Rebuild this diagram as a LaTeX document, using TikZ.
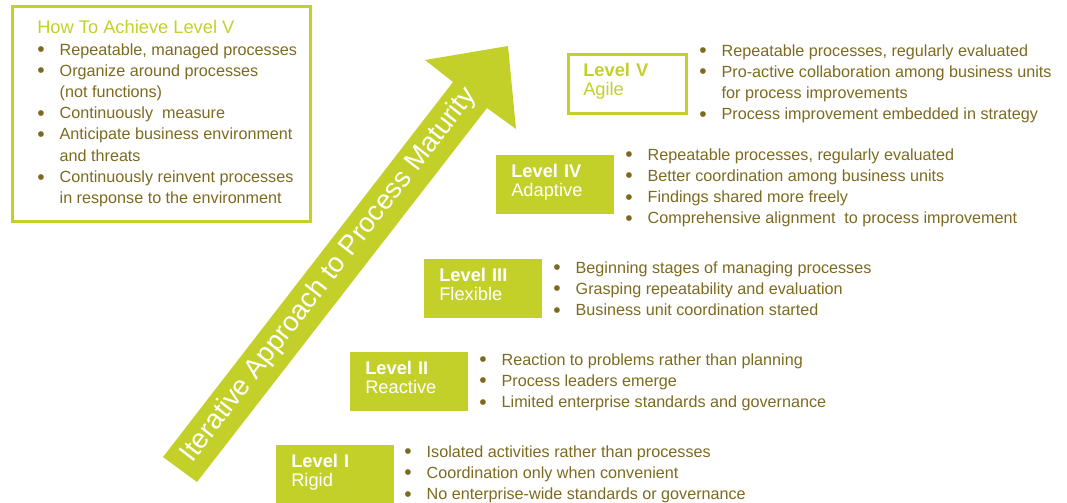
\documentclass[tikz,border=0pt]{standalone}
\usepackage{fontspec}
\setmainfont{Liberation Sans}
\definecolor{mgreen}{HTML}{C4D02A}
\definecolor{mbrown}{HTML}{7D6A1F}
\newcommand{\itm}{\makebox[0.56cm][l]{\raisebox{-1.2pt}{\scalebox{1.3}{\textbullet}}}}
\newcommand{\cnt}{\makebox[0.56cm][l]{}}
\tikzset{
	levelbox/.style={anchor=north west, fill=mgreen, text=white, minimum width=2.95cm, minimum height=1.475cm, inner xsep=0.375cm, inner ysep=0pt, text width=2.2cm, align=left, font=\fontsize{13}{13.5}\selectfont, execute at end node={\rule[-0.2cm]{0pt}{0pt}}},
	bullets/.style={anchor=base west, inner sep=0pt, text=mbrown, font=\fontsize{11.5}{15.1}\selectfont}
}

\begin{document}
\begin{tikzpicture}[x=0.025cm,y=-0.025cm]
			\useasboundingbox (0,0) rectangle (1067,502);
			\draw[mgreen, line width=2pt] (12.5,6.5) rectangle (310.5,221.5);
			\node[anchor=base west, inner sep=0pt, text=mgreen, font=\fontsize{13}{14}\selectfont] (goaltitle) at (37,33.5) {How To Achieve Level V};
			\node[bullets] (goallist) at (37,55) {\begin{tabular}[t]{@{}l@{}}
				\itm Repeatable, managed processes\\
				\itm Organize around processes\\
				\cnt (not functions)\\
				\itm Continuously~ measure\\
				\itm Anticipate business environment\\
				\cnt and threats\\
				\itm Continuously reinvent processes\\
				\cnt in response to the environment
			\end{tabular}};
			\fill[mgreen] (163,457) -- (453,82) -- (425,60) -- (508,46) -- (516,129) -- (487,108) -- (197,482) -- cycle;
			\node[rotate=52.3, text=white, inner sep=0pt, font=\fontsize{19.5}{20}\selectfont] (trend) at (329,275) {Iterative Approach to Process Maturity};
			\node[levelbox, fill=white, draw=mgreen, text=mgreen, line width=1.8pt] (lvV) at (567,53) {\textbf{Level V}\\Agile};
			\node[levelbox] (lvIV) at (496,155) {\textbf{Level IV}\\Adaptive};
			\node[levelbox] (lvIII) at (424,259) {\textbf{Level III}\\Flexible};
			\node[levelbox] (lvII) at (350,352) {\textbf{Level II}\\Reactive};
			\node[levelbox] (lvI) at (276,445) {\textbf{Level I}\\Rigid};
			\node[bullets] (listV) at (699,56) {\begin{tabular}[t]{@{}l@{}}
				\itm Repeatable processes, regularly evaluated\\
				\itm Pro-active collaboration among business units\\
				\cnt for process improvements\\
				\itm Process improvement embedded in strategy
			\end{tabular}};
			\node[bullets] (listIV) at (625,160) {\begin{tabular}[t]{@{}l@{}}
				\itm Repeatable processes, regularly evaluated\\
				\itm Better coordination among business units\\
				\itm Findings shared more freely\\
				\itm Comprehensive alignment~ to process improvement
			\end{tabular}};
			\node[bullets] (listIII) at (553,273) {\begin{tabular}[t]{@{}l@{}}
				\itm Beginning stages of managing processes\\
				\itm Grasping repeatability and evaluation\\
				\itm Business unit coordination started
			\end{tabular}};
			\node[bullets] (listII) at (479,365) {\begin{tabular}[t]{@{}l@{}}
				\itm Reaction to problems rather than planning\\
				\itm Process leaders emerge\\
				\itm Limited enterprise standards and governance
			\end{tabular}};
			\node[bullets] (listI) at (404,457) {\begin{tabular}[t]{@{}l@{}}
				\itm Isolated activities rather than processes\\
				\itm Coordination only when convenient\\
				\itm No enterprise-wide standards or governance
			\end{tabular}};
\end{tikzpicture}
\end{document}
